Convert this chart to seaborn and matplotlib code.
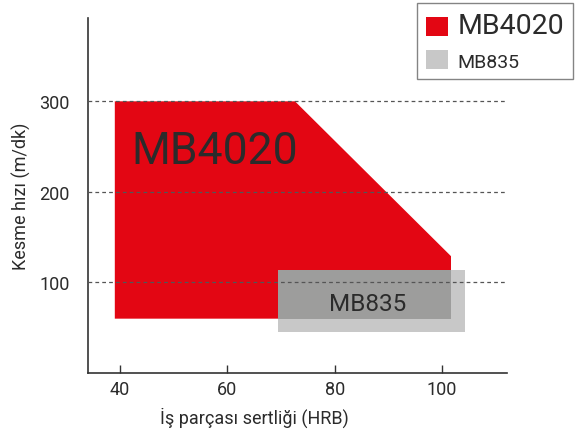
import matplotlib
matplotlib.use("Agg")
import matplotlib.pyplot as plt
from matplotlib.patches import Patch
import seaborn as sns

# data
mb4020_x = [39.0, 39.0, 72.6, 101.7, 101.7]
mb4020_y = [60, 300, 300, 129, 60]
mb835_x = [69.4, 104.4]
mb835_y = [45.8, 113.6]
series_names = ["MB4020", "MB835"]
x_ticks = [40, 60, 80, 100]
y_ticks = [100, 200, 300]

RED = "#e30613"
GRAY = "#c8c8c8"
OVERLAP = "#9d9d9c"
TXT = "#2b2b2b"

sns.set_theme(style="white")
plt.rcParams["font.family"] = ["Roboto", "DejaVu Sans"]

fig = plt.figure(figsize=(5.79, 4.35), dpi=100)
ax = fig.add_axes([88 / 579, 61 / 435, 419.3 / 579, 355 / 435])

# red area
ax.fill(mb4020_x, mb4020_y, color=RED, lw=0, zorder=2)

# gray rectangle
gx0, gx1 = mb835_x
gy0, gy1 = mb835_y
ax.fill([gx0, gx0, gx1, gx1], [gy0, gy1, gy1, gy0], color=GRAY, lw=0, zorder=3)

# overlap of the two areas drawn darker
ox0, ox1 = max(gx0, min(mb4020_x)), min(gx1, max(mb4020_x))
oy0, oy1 = max(gy0, min(mb4020_y)), gy1
ax.fill([ox0, ox0, ox1, ox1], [oy0, oy1, oy1, oy0], color=OVERLAP, lw=0, zorder=4)

# labels inside the areas
ax.text(57.7, 245, series_names[0], fontsize=32, color=TXT, ha="center", va="center", zorder=6)
ax.text(86.2, 77, series_names[1], fontsize=17.5, color=TXT, ha="center", va="center", zorder=6)

ax.set_xlim(34.0, 112.2)
ax.set_ylim(0, 392)
ax.set_xticks(x_ticks)
ax.set_yticks(y_ticks)

for yv in y_ticks:
    ax.axhline(yv, color="#555555", lw=0.9, ls=(0, (3, 2.5)), zorder=5)

sns.despine(ax=ax)
for s in ["left", "bottom"]:
    ax.spines[s].set_color("#333333")
    ax.spines[s].set_linewidth(1.2)

ax.tick_params(axis="x", direction="in", length=6, width=1, color="#333333",
               labelsize=13, labelcolor=TXT, pad=5, bottom=True)
ax.tick_params(axis="y", length=0, labelsize=13, labelcolor=TXT, pad=13)

ax.set_xlabel("İş parçası sertliği (HRB)", fontsize=13, color=TXT)
ax.set_ylabel("Kesme hızı (m/dk)", fontsize=13, color=TXT)
ax.xaxis.set_label_coords(0.396, -0.095)
ax.yaxis.set_label_coords(-0.136, 0.5)

handles = [Patch(facecolor=RED, edgecolor="none"), Patch(facecolor=GRAY, edgecolor="none")]
leg = fig.legend(handles, series_names, loc="upper right",
                 bbox_to_anchor=(573 / 579, 431 / 435), fontsize=14,
                 frameon=True, fancybox=False, edgecolor="#666666",
                 handlelength=1.13, handleheight=1.13, handletextpad=0.5,
                 borderpad=0.45, labelspacing=0.6, borderaxespad=0)
leg.get_frame().set_linewidth(1.0)
leg.get_texts()[0].set_fontsize(20.5)
for t in leg.get_texts():
    t.set_color(TXT)

plt.savefig("out.png", dpi=100)
